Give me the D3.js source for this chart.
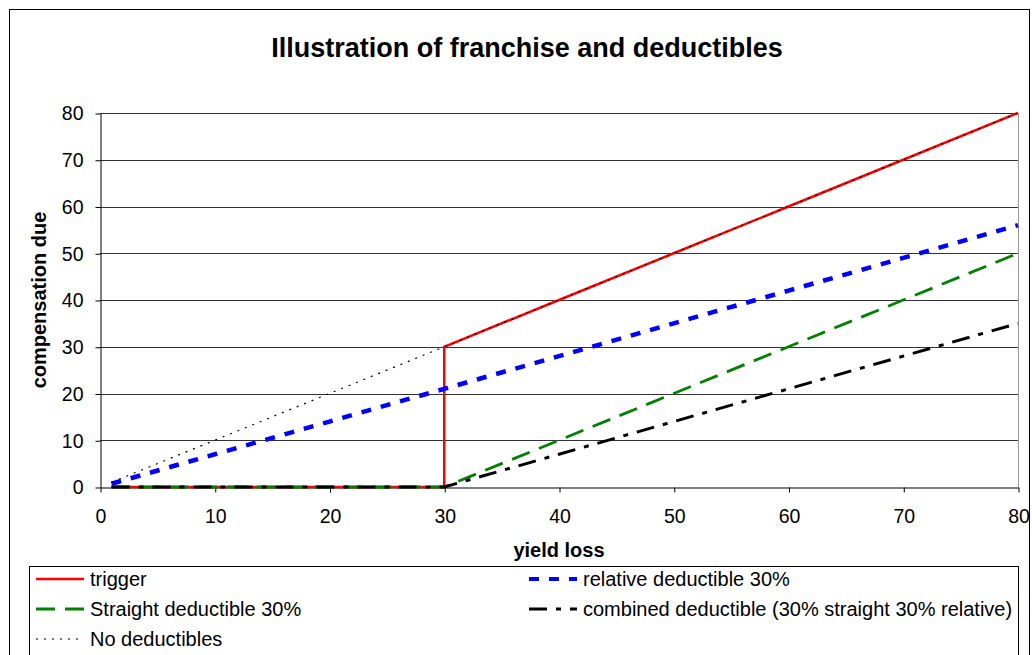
<!DOCTYPE html>
<html>
<head>
<meta charset="utf-8">
<script src="https://cdn.jsdelivr.net/npm/d3@7"></script>
<style>
  html, body { margin: 0; padding: 0; background: #fff; }
  svg { display: block; font-family: "Liberation Sans", Arial, sans-serif; }
</style>
</head>
<body>
<svg id="chart" width="1032" height="655"></svg>
<script>
// Yield loss (%) on the x axis, compensation due on the y axis
const xTicks = [0, 10, 20, 30, 40, 50, 60, 70, 80];
const yTicks = [0, 10, 20, 30, 40, 50, 60, 70, 80];

const triggerX = [1, 10, 20, 30, 30, 40, 50, 60, 70, 80];
const triggerY = [0, 0, 0, 0, 30, 40, 50, 60, 70, 80];

const relativeX = [1, 10, 20, 30, 40, 50, 60, 70, 80];
const relativeY = [0.7, 7, 14, 21, 28, 35, 42, 49, 56];

const straightX = [1, 10, 20, 30, 40, 50, 60, 70, 80];
const straightY = [0, 0, 0, 0, 10, 20, 30, 40, 50];

const combinedX = [1, 10, 20, 30, 40, 50, 60, 70, 80];
const combinedY = [0, 0, 0, 0, 7, 14, 21, 28, 35];

const noDedX = [1, 10, 20, 30, 40, 50, 60, 70, 80];
const noDedY = [1, 10, 20, 30, 40, 50, 60, 70, 80];

const seriesNames = [
  "trigger",
  "relative deductible 30%",
  "Straight deductible 30%",
  "combined deductible (30% straight 30% relative)",
  "No deductibles"
];

const svg = d3.select("#chart");
const plot = { left: 100, right: 1018, top: 113, bottom: 487 };

const x = d3.scaleLinear().domain([0, 80]).range([plot.left, plot.right]);
const y = d3.scaleLinear().domain([0, 80]).range([plot.bottom, plot.top]);

// outer chart frame
svg.append("rect")
  .attr("x", 9.5).attr("y", 9.5)
  .attr("width", 1020).attr("height", 700)
  .attr("fill", "none").attr("stroke", "#000").attr("stroke-width", 1);

// title
svg.append("text")
  .attr("x", 527).attr("y", 57)
  .attr("text-anchor", "middle")
  .attr("font-size", 27).attr("font-weight", "bold")
  .text("Illustration of franchise and deductibles");

// horizontal gridlines
svg.append("g").selectAll("line")
  .data(yTicks.filter(d => d > 0))
  .join("line")
  .attr("x1", plot.left).attr("x2", plot.right)
  .attr("y1", d => Math.round(y(d)) + 0.5).attr("y2", d => Math.round(y(d)) + 0.5)
  .attr("stroke", "#333").attr("stroke-width", 1);

// right edge of plot area
svg.append("line")
  .attr("x1", plot.right + 0.5).attr("x2", plot.right + 0.5)
  .attr("y1", plot.top).attr("y2", plot.bottom)
  .attr("stroke", "#999").attr("stroke-width", 1);

// axes
const yAxis = d3.axisLeft(y).tickValues(yTicks).tickSize(5).tickPadding(12).tickSizeOuter(0);
const xAxis = d3.axisBottom(x).tickValues(xTicks).tickSize(5).tickPadding(17).tickSizeOuter(0);

const gy = svg.append("g").attr("transform", `translate(${plot.left + 0.5},0.5)`).call(yAxis);
const gx = svg.append("g").attr("transform", `translate(0.5,${plot.bottom + 0.5})`).call(xAxis);
[gx, gy].forEach(g => {
  g.selectAll("text").attr("font-size", 19.5).attr("fill", "#000")
    .attr("font-family", "Liberation Sans, Arial, sans-serif");
  g.selectAll("line, path").attr("stroke", "#000");
});

// axis titles
svg.append("text")
  .attr("transform", `translate(46,${(plot.top + plot.bottom) / 2}) rotate(-90)`)
  .attr("text-anchor", "middle")
  .attr("font-size", 20).attr("font-weight", "bold")
  .text("compensation due");

svg.append("text")
  .attr("x", 559).attr("y", 557)
  .attr("text-anchor", "middle")
  .attr("font-size", 20).attr("font-weight", "bold")
  .text("yield loss");

// series styles
const styles = [
  { color: "#ff0000", width: 2.5, dash: null },
  { color: "#0000ff", width: 4.5, dash: "10,10" },
  { color: "#008000", width: 2.8, dash: "19,10" },
  { color: "#000000", width: 3, dash: "18,9,5,9" },
  { color: "#000000", width: 1.2, dash: "2,6" }
];

const data = [
  d3.zip(triggerX, triggerY),
  d3.zip(relativeX, relativeY),
  d3.zip(straightX, straightY),
  d3.zip(combinedX, combinedY),
  d3.zip(noDedX, noDedY)
];

const line = d3.line().x(d => x(d[0])).y(d => y(d[1]));

svg.append("g").selectAll("path")
  .data(data)
  .join("path")
  .attr("d", line)
  .attr("fill", "none")
  .attr("stroke", (d, i) => styles[i].color)
  .attr("stroke-width", (d, i) => styles[i].width)
  .attr("stroke-dasharray", (d, i) => styles[i].dash);

// legend
const legend = svg.append("g");
legend.append("rect")
  .attr("x", 29.5).attr("y", 566.5)
  .attr("width", 989).attr("height", 120)
  .attr("fill", "#fff").attr("stroke", "#000").attr("stroke-width", 1);

const legendPos = [
  { x: 36, y: 579 },
  { x: 529, y: 579 },
  { x: 36, y: 609 },
  { x: 529, y: 609 },
  { x: 36, y: 639 }
];

seriesNames.forEach((name, i) => {
  const p = legendPos[i];
  const s = styles[i];
  const legendWidth = i === 1 ? 4 : (i === 4 ? 1.2 : Math.min(s.width, 3));
  legend.append("line")
    .attr("x1", p.x).attr("x2", p.x + 48)
    .attr("y1", p.y).attr("y2", p.y)
    .attr("stroke", s.color)
    .attr("stroke-width", legendWidth)
    .attr("stroke-dasharray", s.dash);
  legend.append("text")
    .attr("x", p.x + 54).attr("y", p.y + 7)
    .attr("font-size", 20)
    .text(name);
});
</script>
</body>
</html>
